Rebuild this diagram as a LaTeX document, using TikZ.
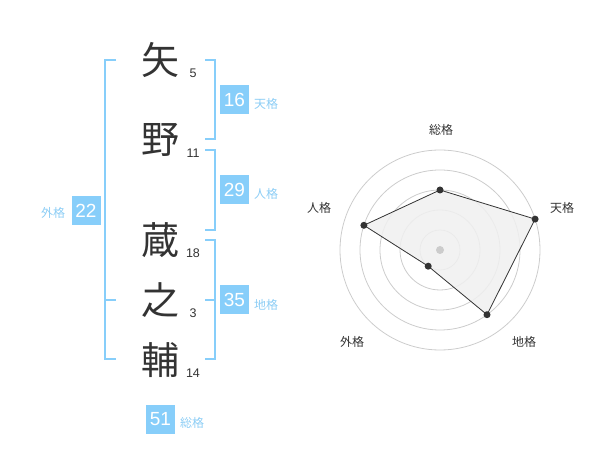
\documentclass[tikz,border=0pt]{standalone}
\usepackage{fontspec}
\setmainfont{Liberation Sans}
\newfontfamily\jp{Noto Sans CJK JP}
\definecolor{sky}{RGB}{135,206,250}
\definecolor{lblc}{RGB}{140,205,245}
\definecolor{ink}{RGB}{51,51,51}
\definecolor{ring}{RGB}{204,204,204}
\definecolor{area}{RGB}{240,240,240}
\begin{document}
\begin{tikzpicture}[x=1pt,y=-1pt,
  kanji/.style={font=\jp\fontsize{38}{38}\selectfont, text=ink, inner sep=0},
  strokes/.style={font=\fontsize{12.5}{12.5}\selectfont, text=ink, inner sep=0},
  valbox/.style={fill=sky, text=white, font=\fontsize{19}{19}\selectfont, minimum width=29pt, minimum height=29pt, inner sep=0},
  lbl/.style={font=\jp\fontsize{12}{12}\selectfont, text=lblc, inner sep=0},
  brk/.style={draw=sky, line width=1.6pt},
  axislbl/.style={font=\jp\fontsize{12}{12}\selectfont, text=ink, inner sep=0},
  ringc/.style={draw=ring, line width=0.8pt},
  dot/.style={circle, fill=ink, inner sep=0, minimum size=7pt},
]
\useasboundingbox (0,0) rectangle (600,470);

% characters
\node[kanji] (c1) at (160,60) {矢};
\node[kanji] (c2) at (160,140) {野};
\node[kanji] (c3) at (160,240) {蔵};
\node[kanji] (c4) at (160,300) {之};
\node[kanji] (c5) at (160,360) {輔};
\node[strokes] (s1) at (193,73) {5};
\node[strokes] (s2) at (193,153) {11};
\node[strokes] (s3) at (193,253) {18};
\node[strokes] (s4) at (193,313) {3};
\node[strokes] (s5) at (193,373) {14};

% brackets
\draw[brk] (116,60) -- (105,60) -- (105,359) -- (116,359);
\draw[brk] (105,300) -- (116,300);
\draw[brk] (205,60) -- (215,60) -- (215,139) -- (205,139);
\draw[brk] (205,150) -- (215,150) -- (215,230) -- (205,230);
\draw[brk] (205,240) -- (215,240) -- (215,359) -- (205,359);
\draw[brk] (205,300) -- (215,300);

% value boxes
\node[valbox] (ten) at (234.5,100) {16};
\node[lbl, anchor=west] (tenl) at (254,104) {天格};
\node[valbox] (jin) at (234.5,190) {29};
\node[lbl, anchor=west] (jinl) at (254,194) {人格};
\node[valbox] (chi) at (234.5,300) {35};
\node[lbl, anchor=west] (chil) at (254,305) {地格};
\node[valbox] (gai) at (86,210.5) {22};
\node[lbl] (gail) at (53,213) {外格};
\node[valbox] (sou) at (160.5,419) {51};
\node[lbl] (soul) at (192,423) {総格};

% radar
\coordinate (o) at (440,250);
\foreach \r in {20,40,60,80,100} \draw[ringc] (o) circle (\r);
\coordinate (p1) at (440,190);
\coordinate (p2) at (535.1,219.1);
\coordinate (p3) at (487.0,314.7);
\coordinate (p4) at (428.2,266.2);
\coordinate (p5) at (363.9,225.3);
\draw[fill=area, fill opacity=0.85, draw=ink, line width=0.8pt] (p1) -- (p2) -- (p3) -- (p4) -- (p5) -- cycle;
\node[circle, fill=ring, inner sep=0, minimum size=8pt] (oc) at (o) {};
\foreach \p in {p1,p2,p3,p4,p5} \node[dot] at (\p) {};
\node[axislbl] (a1) at (441,130) {総格};
\node[axislbl] (a2) at (562,208) {天格};
\node[axislbl] (a3) at (524,342) {地格};
\node[axislbl] (a4) at (352,342) {外格};
\node[axislbl] (a5) at (319,208) {人格};
\end{tikzpicture}
\end{document}
